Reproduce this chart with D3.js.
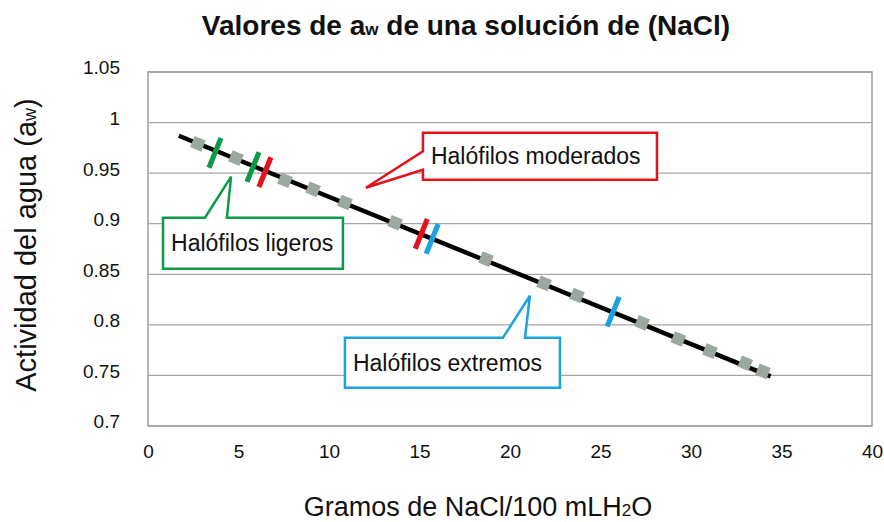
<!DOCTYPE html>
<html>
<head>
<meta charset="utf-8">
<script src="https://cdn.jsdelivr.net/npm/d3@7/dist/d3.min.js"></script>
<style>
  body { margin: 0; background: #fff; }
  text { font-family: Arial, "Liberation Sans", sans-serif; fill: #111; }
</style>
</head>
<body>
<div id="chart"></div>
<script>
// datos
var xTicks = [0, 5, 10, 15, 20, 25, 30, 35, 40];
var yTicks = [0.7, 0.75, 0.8, 0.85, 0.9, 0.95, 1, 1.05];

// recta de tendencia (extremos)
var lineX = [1.7, 34.4];
var lineY = [0.987, 0.749];

// puntos grises (g NaCl / 100 mL, aw)
var pointX = [2.76, 4.86, 7.57, 9.12, 10.88, 13.65, 18.67, 21.88, 23.7, 27.3, 29.3, 31.05, 33.0, 33.98];
var pointY = [0.979, 0.965, 0.943, 0.934, 0.921, 0.901, 0.865, 0.841, 0.829, 0.802, 0.786, 0.774, 0.762, 0.754];

// marcas de los limites de cada grupo
var limitX = [3.7, 5.8, 6.46, 15.1, 15.7, 25.7];
var limitY = [0.970, 0.956, 0.951, 0.890, 0.885, 0.813];
var limitGroup = ["ligeros", "ligeros", "moderados", "moderados", "extremos", "extremos"];

var groupColor = { ligeros: "#0f9a48", moderados: "#e3131b", extremos: "#1aa3e0" };

// cuadros de texto (en unidades de los ejes)
var callouts = [
  { group: "moderados", label: "Halófilos moderados", x0: 15.19, x1: 28.12, y0: 0.990, y1: 0.9435,
    side: "left", base: [0.9715, 0.9534], tip: [12.04, 0.9356] },
  { group: "ligeros", label: "Halófilos ligeros", x0: 0.83, x1: 10.77, y0: 0.9059, y1: 0.8555,
    side: "top", base: [3.15, 4.36], tip: [4.59, 0.9465] },
  { group: "extremos", label: "Halófilos extremos", x0: 10.88, x1: 22.76, y0: 0.7872, y1: 0.7378,
    side: "top", base: [19.61, 20.83], tip: [21.10, 0.8288] }
];

var w = 884, h = 522;
var margin = { top: 72, right: 12, bottom: 96, left: 148 };

var svg = d3.select("#chart").append("svg")
  .attr("width", w)
  .attr("height", h);

var x = d3.scaleLinear().domain([0, 40]).range([margin.left, w - margin.right]);
var y = d3.scaleLinear().domain([0.7, 1.05]).range([h - margin.bottom, margin.top]);

// rejilla horizontal
svg.append("g")
  .selectAll("line")
  .data(yTicks)
  .enter().append("line")
  .attr("x1", x(0)).attr("x2", x(40))
  .attr("y1", function(d) { return y(d); })
  .attr("y2", function(d) { return y(d); })
  .style("stroke", "#a6a6a6")
  .style("stroke-width", 1.3);

// marco del area
svg.append("rect")
  .attr("x", x(0)).attr("y", y(1.05))
  .attr("width", x(40) - x(0)).attr("height", y(0.7) - y(1.05))
  .style("fill", "none")
  .style("stroke", "#a0a0a0")
  .style("stroke-width", 1.5);

// etiquetas de los ejes
var yAxis = d3.axisLeft(y).tickValues(yTicks).tickSize(0).tickPadding(28)
  .tickFormat(function(d) { return d3.format("")(+d.toFixed(2)); });
svg.append("g")
  .attr("transform", "translate(" + x(0) + ",0)")
  .call(yAxis)
  .call(function(g) { g.select(".domain").remove(); })
  .selectAll("text")
  .attr("dy", "0.1em")
  .style("font-family", "Arial, 'Liberation Sans', sans-serif")
  .style("font-size", "19px")
  .style("fill", "#111");

var xAxis = d3.axisBottom(x).tickValues(xTicks).tickSize(0).tickPadding(19);
svg.append("g")
  .attr("transform", "translate(0," + y(0.7) + ")")
  .call(xAxis)
  .call(function(g) { g.select(".domain").remove(); })
  .selectAll("text")
  .style("font-family", "Arial, 'Liberation Sans', sans-serif")
  .style("font-size", "19px")
  .style("fill", "#111");

// titulo
var title = svg.append("text")
  .attr("x", 466).attr("y", 35)
  .attr("text-anchor", "middle")
  .style("font-size", "28px")
  .style("font-weight", "bold");
title.append("tspan").text("Valores de a");
title.append("tspan").style("font-size", "17px").text("w");
title.append("tspan").text(" de una solución de (NaCl)");

// titulo eje x
var xt = svg.append("text")
  .attr("x", 478).attr("y", 516)
  .attr("text-anchor", "middle")
  .style("font-size", "27px");
xt.append("tspan").text("Gramos de NaCl/100 mLH");
xt.append("tspan").style("font-size", "17px").text("2");
xt.append("tspan").text("O");

// titulo eje y
var yt = svg.append("text")
  .attr("transform", "translate(36,245) rotate(-90)")
  .attr("text-anchor", "middle")
  .style("font-size", "29px");
yt.append("tspan").text("Actividad del agua (a");
yt.append("tspan").style("font-size", "18px").text("w");
yt.append("tspan").text(")");

// cuadros de texto con su flecha
callouts.forEach(function(c) {
  var L = x(c.x0), R = x(c.x1), T = y(c.y0), B = y(c.y1);
  var tx = x(c.tip[0]), ty = y(c.tip[1]);
  var p;
  if (c.side == "left") {
    var b0 = y(c.base[0]), b1 = y(c.base[1]);
    p = "M" + L + "," + T + "H" + R + "V" + B + "H" + L + "V" + b1 +
        "L" + tx + "," + ty + "L" + L + "," + b0 + "Z";
  } else {
    var a0 = x(c.base[0]), a1 = x(c.base[1]);
    p = "M" + L + "," + T + "H" + a0 + "L" + tx + "," + ty + "L" + a1 + "," + T +
        "H" + R + "V" + B + "H" + L + "Z";
  }
  svg.append("path")
    .attr("d", p)
    .style("fill", "#fff")
    .style("stroke", groupColor[c.group])
    .style("stroke-width", 2.5)
    .style("stroke-linejoin", "miter");
  svg.append("text")
    .attr("x", L + 8)
    .attr("y", (T + B) / 2 + 8)
    .style("font-size", "23px")
    .text(c.label);
});

// recta
var line = d3.line()
  .x(function(d) { return x(d[0]); })
  .y(function(d) { return y(d[1]); });
svg.append("path")
  .datum(d3.zip(lineX, lineY))
  .attr("d", line)
  .style("fill", "none")
  .style("stroke", "#000")
  .style("stroke-width", 4.5);

var ang = Math.atan2(y(lineY[1]) - y(lineY[0]), x(lineX[1]) - x(lineX[0])) * 180 / Math.PI;

// puntos
svg.append("g")
  .selectAll("rect")
  .data(d3.zip(pointX, pointY))
  .enter().append("rect")
  .attr("x", -6).attr("y", -6)
  .attr("width", 12).attr("height", 12)
  .attr("transform", function(d) {
    return "translate(" + x(d[0]) + "," + y(d[1]) + ") rotate(" + ang + ")";
  })
  .style("fill", "#9aa89f");

// limites
svg.append("g")
  .selectAll("rect")
  .data(d3.range(limitX.length))
  .enter().append("rect")
  .attr("x", -2.6).attr("y", -16)
  .attr("width", 5.2).attr("height", 32)
  .attr("transform", function(i) {
    return "translate(" + x(limitX[i]) + "," + y(limitY[i]) + ") rotate(" + ang + ")";
  })
  .style("fill", function(i) { return groupColor[limitGroup[i]]; });
</script>
</body>
</html>
